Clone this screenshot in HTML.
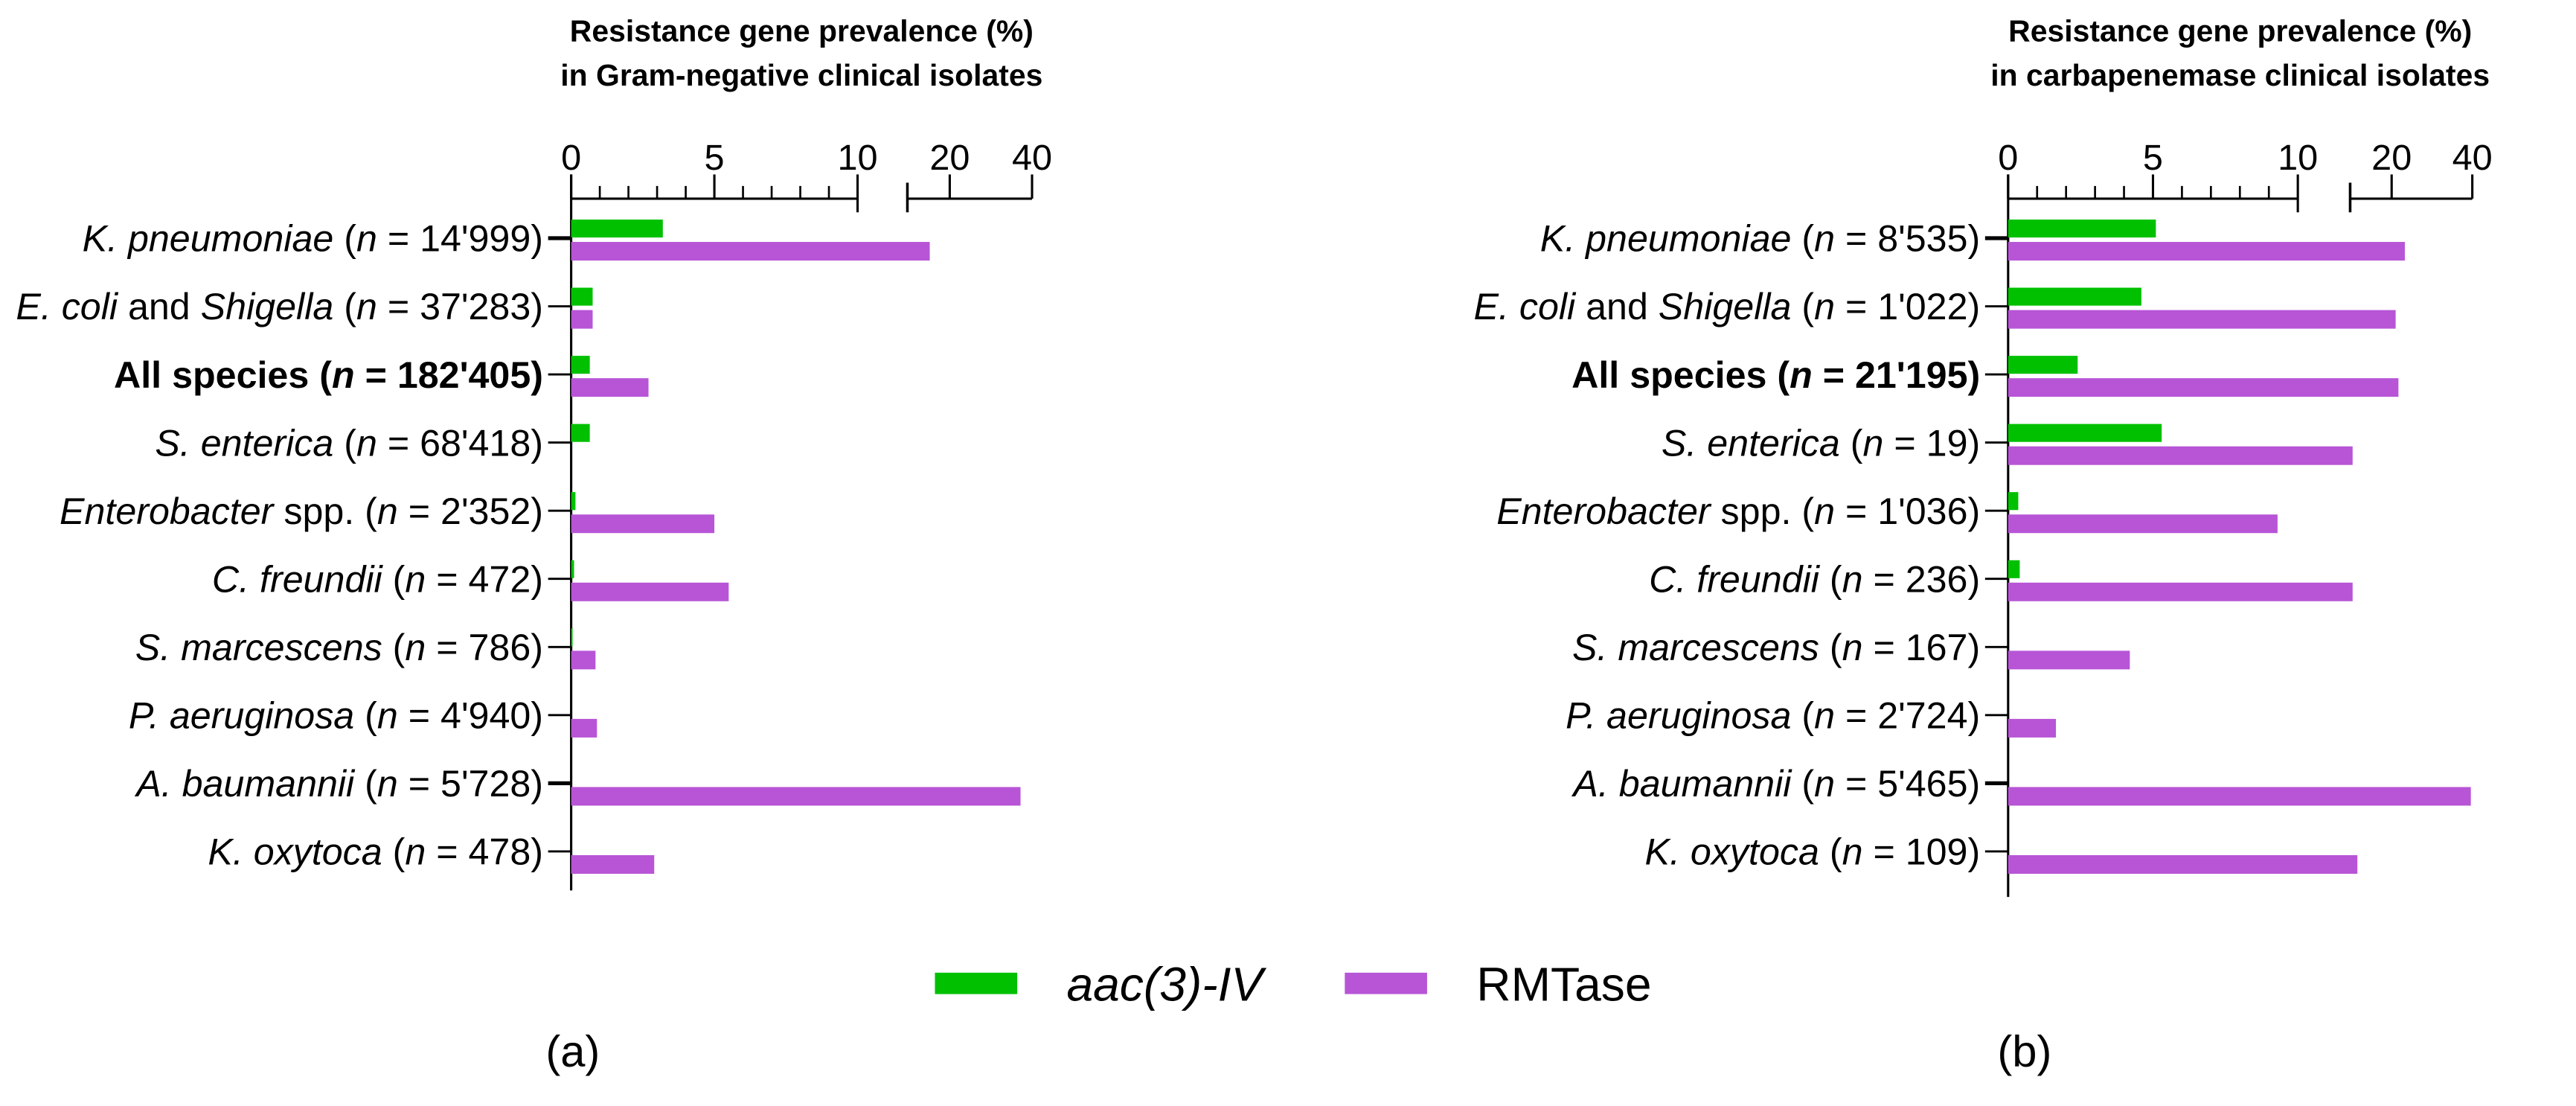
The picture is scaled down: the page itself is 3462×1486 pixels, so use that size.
<!DOCTYPE html>
<html><head><meta charset="utf-8"><style>
html,body{margin:0;padding:0;background:#fff;}
svg{display:block;font-family:"Liberation Sans",Arial,sans-serif;}
</style></head><body>
<svg id="chart" width="3462" height="1486" viewBox="0 0 1565 672" preserveAspectRatio="none" xmlns="http://www.w3.org/2000/svg">
<rect width="1565" height="672" fill="#fff"/>
<text x="487" y="25" font-size="18.5" font-weight="bold" text-anchor="middle">Resistance gene prevalence (%)</text>
<text x="487" y="52" font-size="18.5" font-weight="bold" text-anchor="middle">in Gram-negative clinical isolates</text>
<text x="1361" y="25" font-size="18.5" font-weight="bold" text-anchor="middle">Resistance gene prevalence (%)</text>
<text x="1361" y="52" font-size="18.5" font-weight="bold" text-anchor="middle">in carbapenemase clinical isolates</text>
<g id="pa"></g>
<g id="pb"></g>
<g>
<rect x="568" y="591" width="50" height="13" fill="#00c000"/>
<text x="648" y="608" font-size="29" font-style="italic">aac(3)-IV</text>
<rect x="817" y="591" width="50" height="13" fill="#b755d6"/>
<text x="897" y="608" font-size="29">RMTase</text>
</g>
<text x="348" y="648" font-size="27" text-anchor="middle">(a)</text>
<text x="1230" y="648" font-size="27" text-anchor="middle">(b)</text>
</svg>
<script>
const labelsA = [
 '<tspan font-style="italic">K. pneumoniae</tspan> (<tspan font-style="italic">n</tspan> = 14\'999)',
 '<tspan font-style="italic">E. coli</tspan> and <tspan font-style="italic">Shigella</tspan> (<tspan font-style="italic">n</tspan> = 37\'283)',
 '<tspan font-weight="bold">All species (<tspan font-style="italic">n</tspan> = 182\'405)</tspan>',
 '<tspan font-style="italic">S. enterica</tspan> (<tspan font-style="italic">n</tspan> = 68\'418)',
 '<tspan font-style="italic">Enterobacter</tspan> spp. (<tspan font-style="italic">n</tspan> = 2\'352)',
 '<tspan font-style="italic">C. freundii</tspan> (<tspan font-style="italic">n</tspan> = 472)',
 '<tspan font-style="italic">S. marcescens</tspan> (<tspan font-style="italic">n</tspan> = 786)',
 '<tspan font-style="italic">P. aeruginosa</tspan> (<tspan font-style="italic">n</tspan> = 4\'940)',
 '<tspan font-style="italic">A. baumannii</tspan> (<tspan font-style="italic">n</tspan> = 5\'728)',
 '<tspan font-style="italic">K. oxytoca</tspan> (<tspan font-style="italic">n</tspan> = 478)'
];
const aacA = [3.2, 0.75, 0.65, 0.65, 0.15, 0.1, 0.05, 0, 0, 0];
const rmtA = [16.9, 0.75, 2.7, 0, 5.0, 5.5, 0.85, 0.9, 36.3, 2.9];
const labelsB = [
 '<tspan font-style="italic">K. pneumoniae</tspan> (<tspan font-style="italic">n</tspan> = 8\'535)',
 '<tspan font-style="italic">E. coli</tspan> and <tspan font-style="italic">Shigella</tspan> (<tspan font-style="italic">n</tspan> = 1\'022)',
 '<tspan font-weight="bold">All species (<tspan font-style="italic">n</tspan> = 21\'195)</tspan>',
 '<tspan font-style="italic">S. enterica</tspan> (<tspan font-style="italic">n</tspan> = 19)',
 '<tspan font-style="italic">Enterobacter</tspan> spp. (<tspan font-style="italic">n</tspan> = 1\'036)',
 '<tspan font-style="italic">C. freundii</tspan> (<tspan font-style="italic">n</tspan> = 236)',
 '<tspan font-style="italic">S. marcescens</tspan> (<tspan font-style="italic">n</tspan> = 167)',
 '<tspan font-style="italic">P. aeruginosa</tspan> (<tspan font-style="italic">n</tspan> = 2\'724)',
 '<tspan font-style="italic">A. baumannii</tspan> (<tspan font-style="italic">n</tspan> = 5\'465)',
 '<tspan font-style="italic">K. oxytoca</tspan> (<tspan font-style="italic">n</tspan> = 109)'
];
const aacB = [5.1, 4.6, 2.4, 5.3, 0.35, 0.4, 0, 0, 0, 0];
const rmtB = [22.4, 20.7, 21.2, 14.3, 9.3, 14.3, 4.2, 1.65, 39.5, 14.9];
const linTicks = [0, 5, 10];
const logTicks = [20, 40];
const logMin = 14;

const NS = 'http://www.w3.org/2000/svg';
function mk(parent, tag, attrs){const e=document.createElementNS(NS,tag);for(const k in attrs)e.setAttribute(k,attrs[k]);parent.appendChild(e);return e;}

function panel(g, x0, unit, x20, perDouble, labels, aac, rmt, yBottom){
  const axY = 120.7, y0 = 144.7, step = 41.4;
  const xs = v => v <= 10 ? x0 + v*unit : x20 + Math.log2(v/20)*perDouble;
  const yc = i => y0 + i*step;
  let l = mk(g,'line',{x1:x0,y1:axY,x2:xs(10),y2:axY,stroke:'#000','stroke-width':1.4});
  
  
  l = mk(g,'line',{x1:xs(logMin),y1:axY,x2:xs(40),y2:axY,stroke:'#000','stroke-width':1.4});
  
  
  for(let v=1; v<10; v++){
    if(v===5) continue;
    const t = mk(g,'line',{x1:xs(v),y1:axY,x2:xs(v),y2:113,stroke:'#000','stroke-width':1.2});
    
    
  }
  linTicks.concat(logTicks).forEach(v=>{
    const t = mk(g,'line',{x1:xs(v),y1:v===10?129:axY,x2:xs(v),y2:106,stroke:'#000','stroke-width':1.4});
    
    
    const tx = mk(g,'text',{x:xs(v),y:103,'font-size':22,'text-anchor':'middle'});
    tx.textContent = v;
    
    
  });
  const cap = mk(g,'line',{x1:xs(logMin),y1:111,x2:xs(logMin),y2:129,stroke:'#000','stroke-width':1.6});
  
  
  const ya = mk(g,'line',{x1:x0,y1:106,x2:x0,y2:yBottom,stroke:'#000','stroke-width':1.4});
  
  
  labels.forEach((lab,i)=>{
    const c = yc(i);
    const t = mk(g,'line',{x1:x0-14,y1:c,x2:x0,y2:c,stroke:'#000','stroke-width':(i===0||i===8)?2.4:1.3});
    
    
    const tx = mk(g,'text',{x:x0-17,y:c+8,'font-size':22.7,'text-anchor':'end'});
    tx.innerHTML = lab;
    
    
    if(aac[i] > 0){
      const b = mk(g,'rect',{x:x0,y:c-11.3,width:xs(aac[i])-x0,height:10.9,fill:'#00c000'});
      
      
    }
    if(rmt[i] > 0){
      const b = mk(g,'rect',{x:x0,y:c+2.3,width:xs(rmt[i])-x0,height:11.3,fill:'#b755d6'});
      
      
    }
  });
}
panel(document.getElementById('pa'), 347, 17.4, 577, 50, labelsA, aacA, rmtA, 541);
panel(document.getElementById('pb'), 1220, 17.6, 1453, 49, labelsB, aacB, rmtB, 545);
</script>
</body></html>
